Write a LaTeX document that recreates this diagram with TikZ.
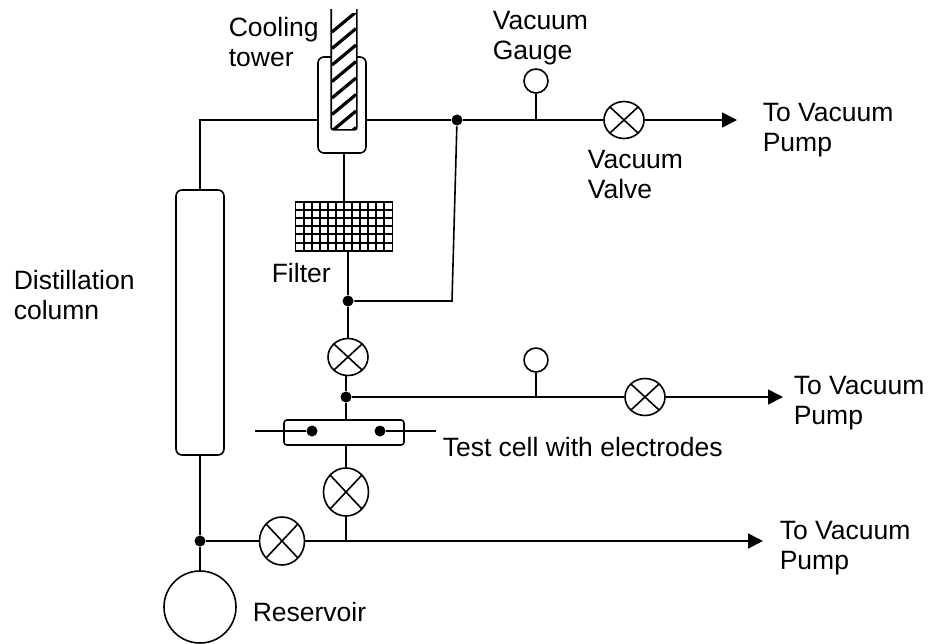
\documentclass[tikz,border=0pt]{standalone}
\usepackage{fontspec}
\setmainfont{Liberation Sans}
\usetikzlibrary{arrows.meta,shapes.geometric}
\tikzset{
	plant/.style={x=1pt,y=-1pt,line width=1.6pt,
		every node/.style={font=\fontsize{26.5}{30}\selectfont}},
	flow/.style={-{Triangle[length=15pt,width=15pt]}},
	label/.style={align=left,anchor=west,inner sep=0pt},
	joint/.style={circle,fill=black,inner sep=0pt,minimum size=11pt},
	gauge/.style={circle,draw,inner sep=0pt,minimum size=24pt},
	vessel/.style={draw,rounded corners=6pt,inner sep=0pt},
	mesh/.style={line width=2pt},
	valve/.style={ellipse,draw,inner sep=0pt,minimum width=40pt,minimum height=37pt,
		path picture={
			\draw (path picture bounding box.north west) -- (path picture bounding box.south east);
			\draw (path picture bounding box.north east) -- (path picture bounding box.south west);
		}},
	big valve/.style={valve,minimum width=45pt,minimum height=48pt}
}

\begin{document}
\begin{tikzpicture}[plant]
	\useasboundingbox (0,0) rectangle (929,643);
	
	\node[vessel,minimum width=48pt,minimum height=96pt] (tower) at (342,105) {};
	\node[minimum width=24pt,minimum height=119pt,inner sep=0pt,fill=white] (rod) at (344,69.5) {};
	\begin{scope}
		\clip (332,13) rectangle (356,129);
		\foreach \i in {0,...,8}
			\draw[line width=3.2pt] (332,{32+\i*16.5}) -- (356,{12+\i*16.5});
	\end{scope}
	\draw[rounded corners=2pt] (rod.north west) -- (rod.south west) -- (rod.south east) -- (rod.north east);
	
	\node[draw,minimum width=97pt,minimum height=49pt,inner sep=0pt] (filter) at (344,226.5) {};
	\foreach \i in {1,...,11}
		\draw[mesh] ({295.5+\i*8.08},202) -- ({295.5+\i*8.08},251);
	\foreach \i in {1,...,5}
		\draw[mesh] (295.5,{202+\i*8.1}) -- (392.5,{202+\i*8.1});
	
	\node[vessel,minimum width=48pt,minimum height=265pt] (column) at (200,322.5) {};
	\node[circle,draw,inner sep=0pt,minimum size=72pt] (reservoir) at (200,607) {};
	\node[vessel,rounded corners=3pt,minimum width=120pt,minimum height=25pt] (cell) at (344,432.5) {};
	
	\node[joint] (top) at (457,120) {};
	\node[joint] (mid) at (348,301) {};
	\node[joint] (low) at (346,397) {};
	\node[joint] (base) at (200,541) {};
	\node[joint] (left) at (312,431) {};
	\node[joint] (right) at (380,431) {};
	
	\node[gauge] (g1) at (536,81) {};
	\node[gauge] (g2) at (536,360) {};
	\node[valve] (v1) at (624,120) {};
	\node[valve] (v2) at (348,357) {};
	\node[valve] (v3) at (645,397) {};
	\node[big valve] (v4) at (346,492) {};
	\node[big valve] (v5) at (282,541) {};
	
	\coordinate (p1) at (737,120);
	\coordinate (p2) at (783,397);
	\coordinate (p3) at (763,541);
	\coordinate (e1) at (255,431);
	\coordinate (e2) at (436,431);
	\coordinate (t1) at (536,120);
	\coordinate (t2) at (536,397);
	\coordinate (t3) at (346,541);
	
	\draw (column.north) |- (tower.west |- top);
	\draw (tower.east |- top) -- (top);
	\draw (top) -- (v1);
	\draw[flow] (v1) -- (p1);
	\draw (g1) -- (t1);
	\draw (tower.south -| filter.north) -- (filter.north);
	\draw (mid |- filter.south) -- (mid);
	\draw (mid) -- (452,301) -- (top);
	\draw (mid) -- (v2);
	\draw (low |- v2.south) -- (low);
	\draw (low) -- (v3);
	\draw[flow] (v3) -- (p2);
	\draw (g2) -- (t2);
	\draw (low) -- (low |- cell.north);
	\draw (e1) -- (left);
	\draw (right) -- (e2);
	\draw (low |- cell.south) -- (v4);
	\draw (v4) -- (t3);
	\draw (column.south) -- (base);
	\draw (base) -- (reservoir);
	\draw (base) -- (v5);
	\draw[flow] (v5) -- (p3);
	
	\node[label] (lbltower) at (228,42) {Cooling\\tower};
	\node[label] (lblgauge) at (492,38) {Vacuum\\Gauge};
	\node[label] (lblvalve) at (587,175) {Vacuum\\Valve};
	\node[label] (lblpump1) at (762,130) {To Vacuum\\Pump};
	\node[label] (lblpump2) at (793,403) {To Vacuum\\Pump};
	\node[label] (lblpump3) at (779,548) {To Vacuum\\Pump};
	\node[label] (lblcolumn) at (13,295) {Distillation\\column};
	\node[label] (lblfilter) at (271,273) {Filter};
	\node[label] (lblcell) at (442,447) {Test cell with electrodes};
	\node[label] (lblres) at (252,612) {Reservoir};
\end{tikzpicture}
\end{document}
